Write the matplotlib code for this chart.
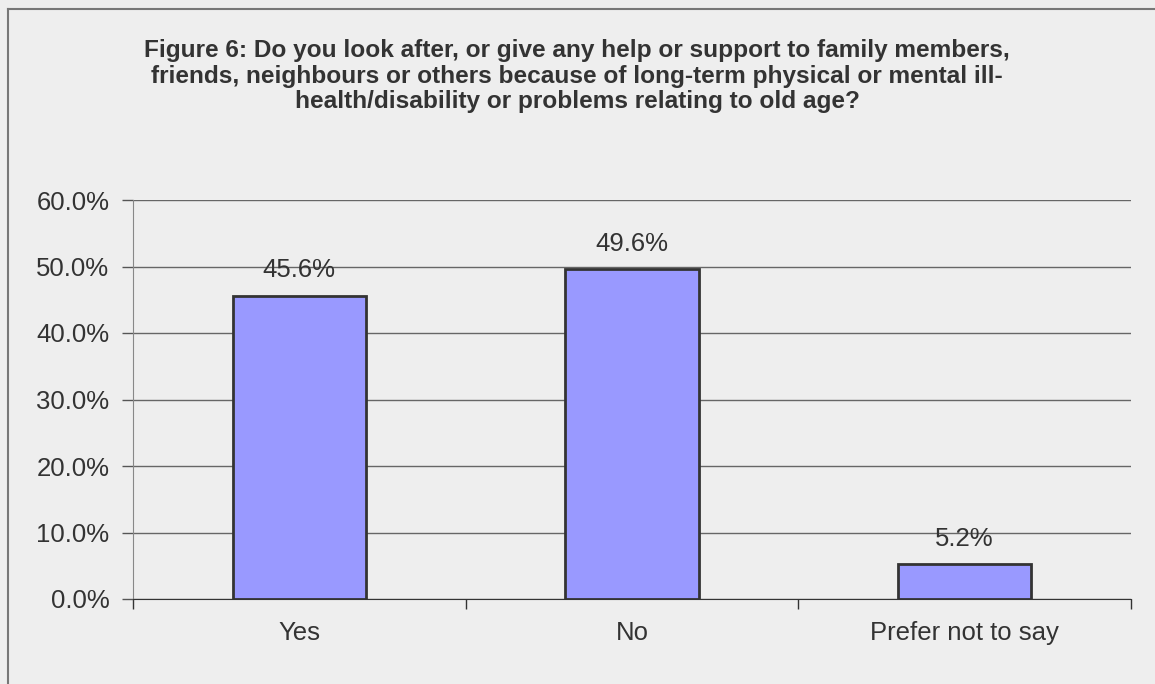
import matplotlib
matplotlib.use("Agg")
import matplotlib.pyplot as plt
import numpy as np
from matplotlib.lines import Line2D

BG, TXT = "#eeeeee", "#333333"
plt.rcParams.update({"font.family": ["Liberation Sans", "DejaVu Sans"],
                     "text.color": TXT, "xtick.color": TXT, "ytick.color": TXT})

categories = ["Yes", "No", "Prefer not to say"]
values = [45.6, 49.6, 5.2]
labels = ["45.6%", "49.6%", "5.2%"]
yticks = [0, 10, 20, 30, 40, 50, 60]
title = ("Figure 6: Do you look after, or give any help or support to family members,\n"
         "friends, neighbours or others because of long-term physical or mental ill-\n"
         "health/disability or problems relating to old age?")

fig = plt.figure(figsize=(11.55, 6.84), dpi=100, facecolor=BG)
W, H = 1155, 684
ax = fig.add_axes([133 / W, 1 - 599 / H, (1131 - 133) / W, (599 - 200) / H])
ax.set_facecolor(BG)

x = np.arange(len(categories))
ax.bar(x, values, width=0.4, color="#9999ff", edgecolor="#333333",
       linewidth=2, zorder=3)
for xi, v, lab in zip(x, values, labels):
    ax.text(xi, v + 2.0, lab, ha="center", va="bottom", fontsize=18.5, color=TXT,
            zorder=4)

ax.set_xlim(-0.5, 2.5)
ax.set_ylim(0, 60)
ax.set_yticks(yticks, [f"{t:.1f}%" for t in yticks])
ax.set_xticks(x, categories)
ax.set_xticks([-0.5, 0.5, 1.5, 2.5], minor=True)
ax.tick_params(axis="y", labelsize=18.5, length=8, width=1, color="#555555", pad=9)
ax.tick_params(axis="x", which="major", labelsize=18.5, length=0, pad=16)
ax.tick_params(axis="x", which="minor", length=7, width=1, color="#333333")
ax.yaxis.grid(True, color="#666666", linewidth=1, zorder=0)
for s in ["top", "right"]:
    ax.spines[s].set_visible(False)
ax.spines["left"].set_color("#888888")
ax.spines["bottom"].set_color("#333333")
ax.spines["bottom"].set_zorder(5)

fig.text(577 / W, 1 - 76 / H, title, ha="center", va="center", fontsize=17.6,
         fontweight="bold", linespacing=1.12, color=TXT)

# figure frame (left and top edge visible)
fig.add_artist(Line2D([7.5 / W, 7.5 / W], [0, 1 - 8.5 / H], transform=fig.transFigure,
                      color="#777777", linewidth=1.5))
fig.add_artist(Line2D([7.5 / W, 1], [1 - 8.5 / H, 1 - 8.5 / H], transform=fig.transFigure,
                      color="#777777", linewidth=1.5))

fig.savefig("out.png", dpi=100, facecolor=BG)
